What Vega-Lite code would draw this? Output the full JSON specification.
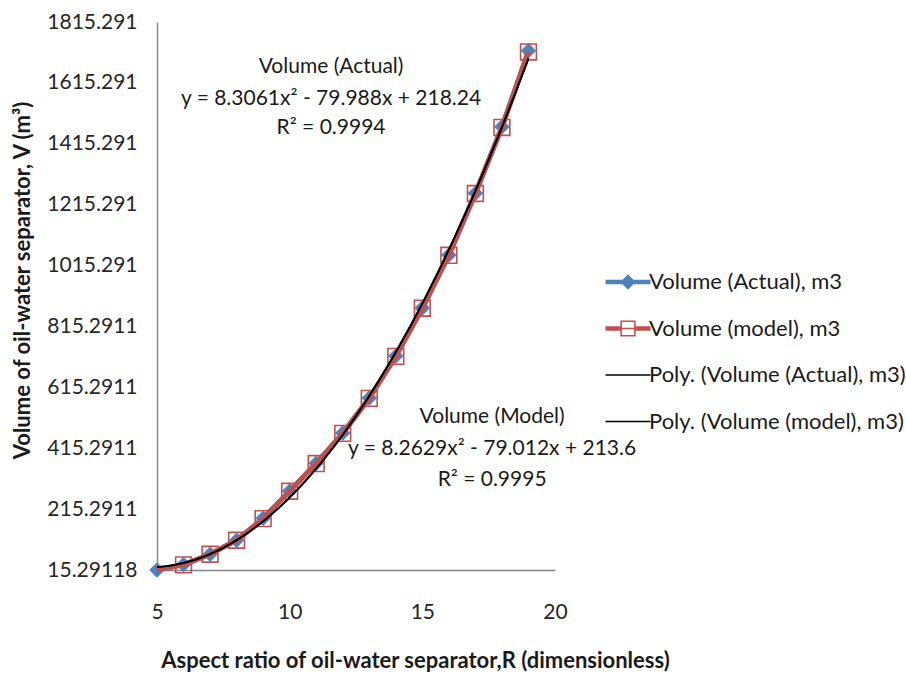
{
  "$schema": "https://vega.github.io/schema/vega-lite/v6.json",
  "width": 398,
  "height": 548,
  "autosize": {"type": "none"},
  "padding": {"left": 157, "top": 22, "right": 351, "bottom": 107},
  "background": "white",
  "config": {
    "view": {"stroke": null},
    "font": "Lato",
    "axis": {
      "grid": false,
      "ticks": false,
      "tickSize": 0,
      "domainColor": "#868686",
      "domainWidth": 1.5,
      "labelFont": "Lato",
      "labelFontSize": 21,
      "labelColor": "#262626",
      "labelFlush": false,
      "titleFont": "Lato",
      "titleFontSize": 22,
      "titleFontWeight": "bold",
      "titleColor": "#1a1a1a"
    }
  },
  "datasets": {
    "points": [
      {"R": 5, "V": 15.29118, "series": "Volume (Actual), m3", "trend": "Poly. (Volume (Actual), m3)"},
      {"R": 6, "V": 33, "series": "Volume (Actual), m3", "trend": "Poly. (Volume (Actual), m3)"},
      {"R": 7, "V": 67, "series": "Volume (Actual), m3", "trend": "Poly. (Volume (Actual), m3)"},
      {"R": 8, "V": 113, "series": "Volume (Actual), m3", "trend": "Poly. (Volume (Actual), m3)"},
      {"R": 9, "V": 185, "series": "Volume (Actual), m3", "trend": "Poly. (Volume (Actual), m3)"},
      {"R": 10, "V": 275, "series": "Volume (Actual), m3", "trend": "Poly. (Volume (Actual), m3)"},
      {"R": 11, "V": 366, "series": "Volume (Actual), m3", "trend": "Poly. (Volume (Actual), m3)"},
      {"R": 12, "V": 465, "series": "Volume (Actual), m3", "trend": "Poly. (Volume (Actual), m3)"},
      {"R": 13, "V": 580, "series": "Volume (Actual), m3", "trend": "Poly. (Volume (Actual), m3)"},
      {"R": 14, "V": 718, "series": "Volume (Actual), m3", "trend": "Poly. (Volume (Actual), m3)"},
      {"R": 15, "V": 876, "series": "Volume (Actual), m3", "trend": "Poly. (Volume (Actual), m3)"},
      {"R": 16, "V": 1050, "series": "Volume (Actual), m3", "trend": "Poly. (Volume (Actual), m3)"},
      {"R": 17, "V": 1253, "series": "Volume (Actual), m3", "trend": "Poly. (Volume (Actual), m3)"},
      {"R": 18, "V": 1471, "series": "Volume (Actual), m3", "trend": "Poly. (Volume (Actual), m3)"},
      {"R": 19, "V": 1721, "series": "Volume (Actual), m3", "trend": "Poly. (Volume (Actual), m3)"},
      {"R": 5, "V": 16.5, "series": "Volume (model), m3", "trend": "Poly. (Volume (model), m3)"},
      {"R": 6, "V": 32, "series": "Volume (model), m3", "trend": "Poly. (Volume (model), m3)"},
      {"R": 7, "V": 67, "series": "Volume (model), m3", "trend": "Poly. (Volume (model), m3)"},
      {"R": 8, "V": 113, "series": "Volume (model), m3", "trend": "Poly. (Volume (model), m3)"},
      {"R": 9, "V": 184, "series": "Volume (model), m3", "trend": "Poly. (Volume (model), m3)"},
      {"R": 10, "V": 274, "series": "Volume (model), m3", "trend": "Poly. (Volume (model), m3)"},
      {"R": 11, "V": 365, "series": "Volume (model), m3", "trend": "Poly. (Volume (model), m3)"},
      {"R": 12, "V": 464, "series": "Volume (model), m3", "trend": "Poly. (Volume (model), m3)"},
      {"R": 13, "V": 579, "series": "Volume (model), m3", "trend": "Poly. (Volume (model), m3)"},
      {"R": 14, "V": 717, "series": "Volume (model), m3", "trend": "Poly. (Volume (model), m3)"},
      {"R": 15, "V": 875, "series": "Volume (model), m3", "trend": "Poly. (Volume (model), m3)"},
      {"R": 16, "V": 1049, "series": "Volume (model), m3", "trend": "Poly. (Volume (model), m3)"},
      {"R": 17, "V": 1252, "series": "Volume (model), m3", "trend": "Poly. (Volume (model), m3)"},
      {"R": 18, "V": 1469, "series": "Volume (model), m3", "trend": "Poly. (Volume (model), m3)"},
      {"R": 19, "V": 1717, "series": "Volume (model), m3", "trend": "Poly. (Volume (model), m3)"}
    ],
    "notes": [
      {"R": 11.56, "V": 1668, "label": "Volume (Actual)"},
      {"R": 11.56, "V": 1562, "label": "y = 8.3061x² - 79.988x + 218.24"},
      {"R": 11.56, "V": 1467, "label": "R² = 0.9994"},
      {"R": 17.63, "V": 518, "label": "Volume (Model)"},
      {"R": 17.63, "V": 413, "label": "y = 8.2629x² - 79.012x + 213.6"},
      {"R": 17.63, "V": 311, "label": "R² = 0.9995"}
    ]
  },
  "data": {"name": "points"},
  "encoding": {
    "x": {
      "field": "R",
      "type": "quantitative",
      "scale": {"domain": [5, 20], "nice": false, "zero": false},
      "axis": {
        "values": [5, 10, 15, 20],
        "labelPadding": 31,
        "labelBaseline": "top",
        "title": "Aspect ratio of oil-water separator,R (dimensionless)",
        "titleX": 258,
        "titleY": 80,
        "titleAlign": "center",
        "titleBaseline": "top"
      }
    },
    "y": {
      "field": "V",
      "type": "quantitative",
      "scale": {"domain": [15.29118, 1815.29118], "nice": false, "zero": false},
      "axis": {
        "values": [15.29118, 215.29118, 415.29118, 615.29118, 815.29118, 1015.29118, 1215.29118, 1415.29118, 1615.29118, 1815.29118],
        "labelExpr": "datum.value < 100 ? '15.29118' : (datum.value < 1000 ? format(floor(datum.value * 10000) / 10000, '.4f') : format(floor(datum.value * 1000) / 1000, '.3f'))",
        "labelPadding": 20,
        "title": "Volume of oil-water separator, V (m³)",
        "titleX": -135,
        "titleY": 258,
        "titleAngle": -90,
        "titleAlign": "center",
        "titleBaseline": "middle"
      }
    }
  },
  "layer": [
    {
      "transform": [{"filter": "datum.series === 'Volume (Actual), m3'"}],
      "mark": {"type": "line", "strokeWidth": 5},
      "encoding": {
        "color": {
          "field": "series",
          "type": "nominal",
          "scale": {
            "domain": ["Volume (Actual), m3", "Volume (model), m3", "Poly. (Volume (Actual), m3)", "Poly. (Volume (model), m3)"],
            "range": ["#4F81BD", "#C0504D", "#000000", "#000000"]
          },
          "legend": {
            "title": null,
            "orient": "none",
            "legendX": 460,
            "legendY": 249,
            "padding": 0,
            "symbolSize": 2025,
            "rowPadding": 24.5,
            "labelOffset": 10,
            "labelFont": "Lato",
            "labelFontSize": 22,
            "labelColor": "#1a1a1a",
            "labelLimit": 400,
            "encode": {
              "symbols": {
                "update": {
                  "shape": {"signal": "datum.index >= 2 ? 'stroke' : (datum.index == 0 ? 'M-1,-0.1H1V0.1H-1Z M0,-0.34L0.34,0L0,0.34L-0.34,0Z' : 'M-1,-0.1H-0.34V0.1H-1Z M0.34,-0.1H1V0.1H0.34Z M-0.34,-0.36H0.34V0.36H-0.34Z M-0.27,-0.29V0.29H0.27V-0.29Z M-0.27,-0.03H0.27V0.03H-0.27Z')"},
                  "fill": {"signal": "datum.index >= 2 ? 'transparent' : (datum.index == 0 ? '#4F81BD' : '#C0504D')"},
                  "stroke": {"signal": "datum.index >= 2 ? '#000000' : 'transparent'"},
                  "strokeWidth": {"signal": "datum.index >= 2 ? 1.5 : 0"}
                }
              }
            }
          }
        }
      }
    },
    {
      "transform": [{"filter": "datum.series === 'Volume (Actual), m3'"}],
      "mark": {"type": "point", "shape": "diamond", "filled": true, "size": 240, "color": "#4F81BD", "opacity": 1}
    },
    {
      "transform": [{"filter": "datum.series === 'Volume (model), m3'"}],
      "mark": {"type": "line", "strokeWidth": 5},
      "encoding": {
        "color": {"field": "series", "type": "nominal"}
      }
    },
    {
      "transform": [{"filter": "datum.series === 'Volume (model), m3' && datum.R > 5"}],
      "mark": {"type": "point", "shape": "square", "filled": false, "size": 250, "stroke": "#C0504D", "strokeWidth": 1.6, "opacity": 1}
    },
    {
      "transform": [
        {"regression": "V", "on": "R", "groupby": ["trend"], "method": "poly", "order": 2}
      ],
      "mark": {"type": "line", "strokeWidth": 1.8},
      "encoding": {
        "color": {"field": "trend", "type": "nominal"}
      }
    },
    {
      "data": {"name": "notes"},
      "mark": {"type": "text", "font": "Lato", "fontSize": 21, "color": "#1a1a1a", "align": "center", "baseline": "middle"},
      "encoding": {
        "text": {"field": "label", "type": "nominal"}
      }
    }
  ]
}
